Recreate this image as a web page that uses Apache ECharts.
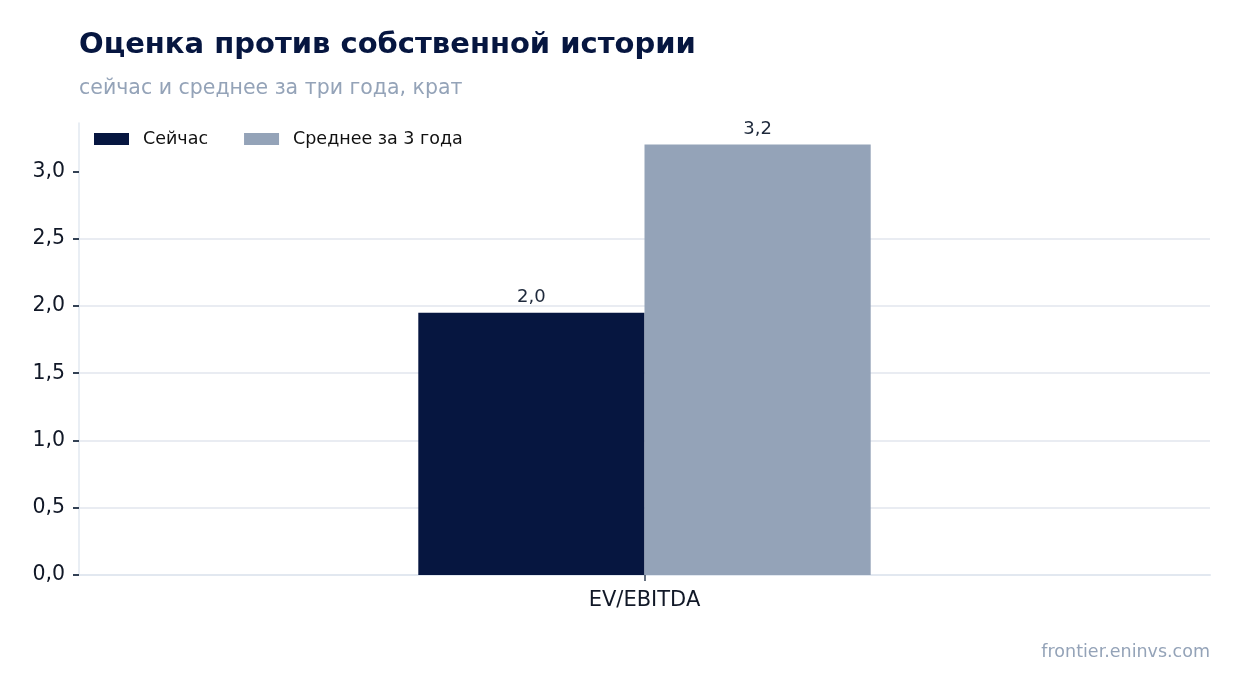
<!DOCTYPE html>
<html>
<head>
<meta charset="utf-8">
<script src="https://cdn.jsdelivr.net/npm/echarts@6/dist/echarts.min.js"></script>
<style>
  html, body { margin: 0; padding: 0; background: #ffffff; }
  #chart { width: 1241px; height: 693px; }
</style>
</head>
<body>
<div id="chart"></div>
<script>
// категории и значения
var categories = ['EV/EBITDA'];
var seriesNames = ['Сейчас', 'Среднее за 3 года'];
var nowValues = [1.95];
var avgValues = [3.2];
var yTicks = [0, 0.5, 1.0, 1.5, 2.0, 2.5, 3.0];

var font = 'DejaVu Sans';
var chart = echarts.init(document.getElementById('chart'));

// формат с запятой, округление до десятых
function fmt(v) {
  return (Math.round(v * 10 + 1e-9) / 10).toFixed(1).replace('.', ',');
}

chart.setOption({
  animation: false,
  textStyle: { fontFamily: font },
  title: [
    {
      text: 'Оценка против собственной истории',
      left: 79, top: 31, padding: 0,
      textStyle: { fontFamily: font, fontSize: 29, fontWeight: 'bold', color: '#061640' }
    },
    {
      text: 'сейчас и среднее за три года, крат',
      left: 79, top: 78, padding: 0,
      textStyle: { fontFamily: font, fontSize: 20.5, fontWeight: 'normal', color: '#94a3b8' }
    },
    {
      text: 'frontier.eninvs.com',
      right: 31, top: 643, padding: 0,
      textStyle: { fontFamily: font, fontSize: 17.5, fontWeight: 'normal', color: '#94a3b8' }
    }
  ],
  legend: {
    left: 94, top: 130, padding: 0,
    icon: 'rect',
    itemWidth: 35, itemHeight: 12,
    itemGap: 36,
    textStyle: { fontFamily: font, fontSize: 17.5, color: '#111111', padding: [0, 0, 0, 9] },
    data: seriesNames
  },
  grid: { left: 79, right: 31, top: 123, bottom: 118, containLabel: false },
  xAxis: {
    type: 'category',
    data: categories,
    axisLine: { lineStyle: { color: '#e2e8f0', width: 2 } },
    axisTick: { show: true, alignWithLabel: true, length: 6, lineStyle: { color: '#334155', width: 1.5 } },
    axisLabel: { fontFamily: font, fontSize: 21, color: '#111827', margin: 15 },
    splitLine: { show: false }
  },
  yAxis: {
    type: 'value',
    min: 0,
    max: 3.36,
    interval: 0.5,
    axisLine: { show: true, lineStyle: { color: '#e2e8f0', width: 1.5 } },
    axisTick: { show: true, length: 6, lineStyle: { color: '#334155', width: 2 }, customValues: yTicks },
    axisLabel: { fontFamily: font, fontSize: 20.5, color: '#111827', margin: 14, customValues: yTicks,
      formatter: function (v) { return fmt(v); } },
    splitLine: { show: true, showMaxLine: false, lineStyle: { color: '#e2e6ee', width: 1.5 } }
  },
  series: [
    {
      name: seriesNames[0],
      type: 'bar',
      data: nowValues,
      barWidth: '20%',
      barGap: '0%',
      itemStyle: { color: '#061640' },
      label: { show: true, position: 'top', distance: 6, fontFamily: font, fontSize: 18, color: '#1e293b',
        formatter: function (p) { return fmt(p.value); } }
    },
    {
      name: seriesNames[1],
      type: 'bar',
      data: avgValues,
      barWidth: '20%',
      barGap: '0%',
      itemStyle: { color: '#94a3b8' },
      label: { show: true, position: 'top', distance: 6, fontFamily: font, fontSize: 18, color: '#1e293b',
        formatter: function (p) { return fmt(p.value); } }
    }
  ]
});
</script>
</body>
</html>
